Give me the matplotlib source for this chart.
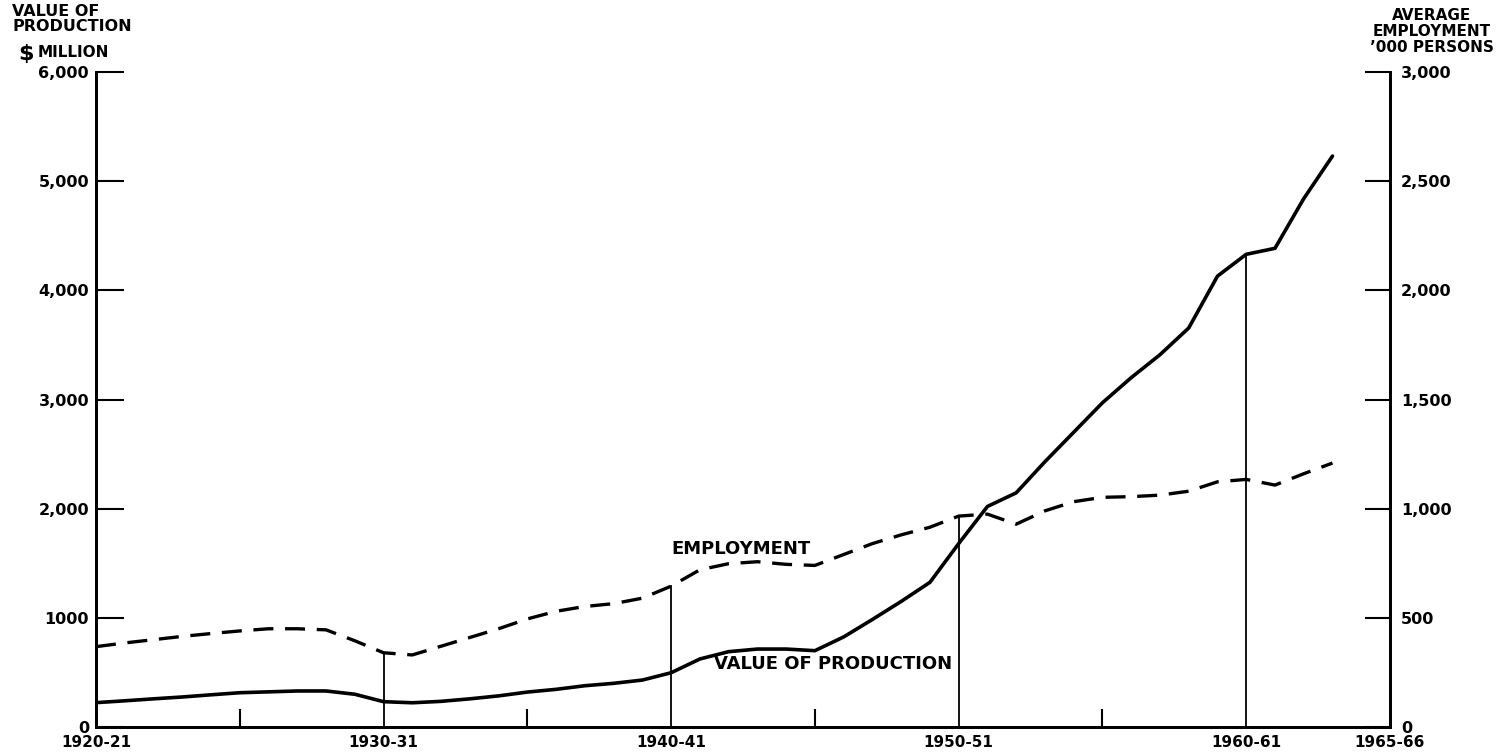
import matplotlib.pyplot as plt
import numpy as np

years = list(range(1920, 1964))
production = [223, 240, 258, 275, 295, 314, 322, 330, 330, 300,
              232, 222, 235, 258, 285, 320, 345, 378, 400, 430,
              497, 623, 690, 714, 714, 699, 825, 985, 1150, 1325,
              1680, 2020, 2145, 2430, 2700, 2970, 3200, 3410, 3655, 4130,
              4330, 4385, 4840, 5230]
employment = [368, 385, 400, 415, 428, 440, 450, 450, 445, 395,
              340, 330, 370, 410, 450, 495, 530, 552, 565, 590,
              645, 720, 748, 757, 745, 740, 790, 840, 880, 915,
              966, 975, 929, 990, 1032, 1052, 1055, 1062, 1080, 1123,
              1134, 1108, 1160, 1209]

x_labels = ['1920-21', '1930-31', '1940-41', '1950-51', '1960-61', '1965-66']
x_label_pos = [1920, 1930, 1940, 1950, 1960, 1965]
minor_pos = [1925, 1935, 1945, 1955]
left_ticks = [0, 1000, 2000, 3000, 4000, 5000, 6000]
left_labels = ['0', '1000', '2,000', '3,000', '4,000', '5,000', '6,000']
right_ticks = [0, 500, 1000, 1500, 2000, 2500, 3000]
right_labels = ['0', '500', '1,000', '1,500', '2,000', '2,500', '3,000']
drop_years = [1930, 1940, 1950, 1960]

plt.rcParams['font.family'] = ['DejaVu Sans']
plt.rcParams['font.weight'] = 'bold'

fig = plt.figure(figsize=(15.12, 7.54), dpi=100)
ax = fig.add_axes([96 / 1512, 27 / 754, 1294 / 1512, 655 / 754])
ax2 = ax.twinx()

ax.plot(years, production, color='black', lw=2.6, solid_capstyle='round',
        solid_joinstyle='round', zorder=3)
ax2.plot(years, employment, color='black', lw=2.4, linestyle=(0, (6, 3.5)),
         dash_joinstyle='round', zorder=3)

# vertical drop lines up to the upper curve
for yr in drop_years:
    i = years.index(yr)
    top = max(production[i], 2 * employment[i])
    ax.plot([yr, yr], [0, top], color='black', lw=1.3, zorder=2)

# minor ticks as short verticals from the base
for yr in minor_pos:
    ax.plot([yr, yr], [0, 160], color='black', lw=1.5, zorder=2)

ax.set_xlim(1920, 1965)
ax.set_ylim(0, 6000)
ax2.set_ylim(0, 3000)

for a in (ax, ax2):
    a.spines['top'].set_visible(False)
    for s in a.spines.values():
        s.set_linewidth(2)

ax.set_xticks(x_label_pos)
ax.set_xticklabels(x_labels, fontsize=11, fontweight='bold')
ax.tick_params(axis='x', length=0, pad=6)

ax.set_yticks(left_ticks)
ax.set_yticklabels(left_labels, fontsize=11.5, fontweight='bold')
ax.tick_params(axis='y', direction='in', length=20, width=1.5, pad=5)

ax2.set_yticks(right_ticks)
ax2.set_yticklabels(right_labels, fontsize=11.5, fontweight='bold')
ax2.tick_params(axis='y', direction='in', length=18, width=1.5, pad=8)

ax.text(1940.0, 1630, 'EMPLOYMENT', fontsize=13, fontweight='bold', va='center')
ax.text(1941.5, 577, 'VALUE OF PRODUCTION', fontsize=13, fontweight='bold', va='center')

fig.text(0.008, 0.995, 'VALUE OF\nPRODUCTION', fontsize=11.5, fontweight='bold',
         va='top', ha='left', linespacing=1.0)
fig.text(0.012, 0.915, '$', fontsize=16, fontweight='bold', va='bottom', ha='left')
fig.text(0.025, 0.921, 'MILLION', fontsize=11, fontweight='bold', va='bottom', ha='left')

fig.text(0.947, 0.99, 'AVERAGE\nEMPLOYMENT\n\u2019000 PERSONS', fontsize=11,
         fontweight='bold', va='top', ha='center', linespacing=1.1, multialignment='center')

fig.savefig('out.png', dpi=100)
